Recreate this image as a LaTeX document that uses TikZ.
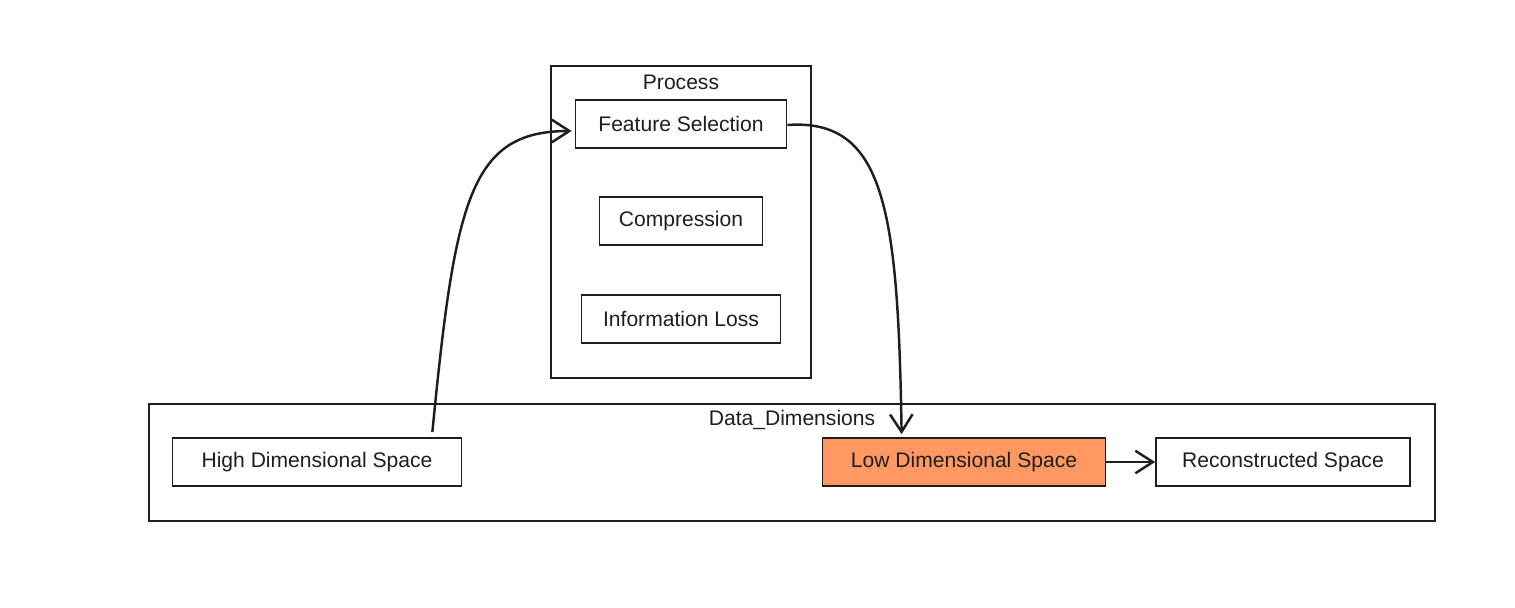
\documentclass[tikz,border=0pt]{standalone}
\usepackage{fontspec}
\setmainfont{Liberation Sans}
\usepackage{tikz}
\usetikzlibrary{arrows.meta,positioning,fit}
\definecolor{ink}{RGB}{30,30,30}
\definecolor{lowfill}{RGB}{255,152,99}
\tikzstyle{block} = [draw=ink, rectangle, line width=1pt, minimum height=0.96cm,
    inner sep=0pt, text=ink, font=\fontsize{12}{14}\selectfont]
\tikzstyle{frame} = [draw=ink, rectangle, line width=1pt, inner sep=0pt]
\tikzstyle{flow} = [-{Straight Barb[length=3.5mm,width=4.5mm]}, draw=ink, line width=1.4pt]

\begin{document}
\begin{tikzpicture}[x=0.02cm, y=-0.02cm]
  \useasboundingbox (0,0) rectangle (1515,608);
  % groups
  \node [frame, minimum width=5.2cm, minimum height=6.24cm] (process) at (681,222) {};
  \node [text=ink, font=\fontsize{12}{14}\selectfont] (processlabel) at (681,82) {Process};
  \node [frame, minimum width=25.72cm, minimum height=2.34cm] (data) at (792,462.5) {};
  \node [text=ink, font=\fontsize{12}{14}\selectfont] (datalabel) at (792,420) {Data\_Dimensions};
  % steps
  \node [block, minimum width=4.22cm] (fs) at (681,124) {Feature Selection};
  \node [block, minimum width=3.26cm] (comp) at (681,221) {Compression};
  \node [block, minimum width=3.98cm] (loss) at (681,319) {Information Loss};
  \node [block, minimum width=5.78cm] (high) at (317,462) {High Dimensional Space};
  \node [block, minimum width=5.66cm, fill=lowfill] (low) at (964,462) {Low Dimensional Space};
  \node [block, minimum width=5.08cm] (recon) at (1283,462) {Reconstructed Space};
  % connections
  \draw [flow] ([xshift=-0.6cm,yshift=0.1cm]high.north east) .. controls (455,200) and (470,131) .. ([xshift=-0.06cm,yshift=-0.14cm]fs.west);
  \draw [flow] ([yshift=-0.02cm]fs.east) .. controls (885,118) and (898,210) .. ([xshift=1.6cm,yshift=0.06cm]low.north west);
  \draw [flow] (low) -- (recon);
\end{tikzpicture}
\end{document}
